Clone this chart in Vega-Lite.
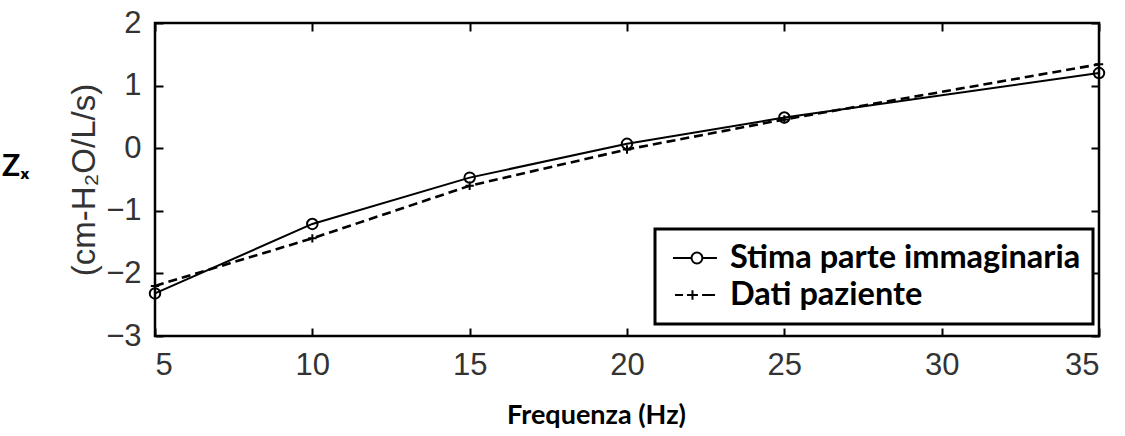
{
  "$schema": "https://vega.github.io/schema/vega-lite/v6.json",
  "autosize": "none",
  "width": 944,
  "height": 313,
  "padding": {"left": 155, "top": 23, "right": 26, "bottom": 100},
  "background": "white",
  "title": {"text": "Zₓ", "orient": "left", "angle": 0, "anchor": "middle", "align": "right", "baseline": "middle", "offset": 12, "dy": -13, "font": "Lato", "fontWeight": "bold", "fontSize": 30, "color": "black"},
  "data": {"values": [
    {"f": 5, "z": -2.32, "serie": "Stima parte immaginaria"},
    {"f": 10, "z": -1.21, "serie": "Stima parte immaginaria"},
    {"f": 15, "z": -0.47, "serie": "Stima parte immaginaria"},
    {"f": 20, "z": 0.07, "serie": "Stima parte immaginaria"},
    {"f": 25, "z": 0.49, "serie": "Stima parte immaginaria"},
    {"f": 35, "z": 1.2, "serie": "Stima parte immaginaria"},
    {"f": 5, "z": -2.2, "serie": "Dati paziente"},
    {"f": 10, "z": -1.44, "serie": "Dati paziente"},
    {"f": 15, "z": -0.6, "serie": "Dati paziente"},
    {"f": 20, "z": -0.02, "serie": "Dati paziente"},
    {"f": 25, "z": 0.46, "serie": "Dati paziente"},
    {"f": 35, "z": 1.34, "serie": "Dati paziente"}
  ]},
  "layer": [
    {
      "transform": [{"filter": "datum.serie === 'Stima parte immaginaria'"}],
      "mark": {"type": "line", "color": "black", "strokeWidth": 2, "clip": false},
      "encoding": {
        "x": {"field": "f", "type": "quantitative", "scale": {"domain": [5, 35], "nice": false, "zero": false},
          "axis": {"orient": "bottom", "values": [5, 10, 15, 20, 25, 30, 35], "title": "Frequenza (Hz)", "titleFont": "Lato", "titleFontWeight": "bold", "titleFontSize": 27, "titleColor": "black", "titleX": 441, "titlePadding": 22}},
        "y": {"field": "z", "type": "quantitative", "scale": {"domain": [-3, 2], "nice": false, "zero": false},
          "axis": {"orient": "left", "values": [-3, -2, -1, 0, 1, 2], "title": "(cm-H₂O/L/s)", "titleFont": "Liberation Sans", "titleFontWeight": "normal", "titleFontSize": 33, "titleColor": "#333333", "titlePadding": 4}}
      }
    },
    {
      "transform": [{"filter": "datum.serie === 'Dati paziente'"}],
      "mark": {"type": "line", "color": "black", "strokeWidth": 2.6, "strokeDash": [9, 5], "clip": false},
      "encoding": {
        "x": {"field": "f", "type": "quantitative", "axis": null},
        "y": {"field": "z", "type": "quantitative", "axis": null}
      }
    },
    {
      "transform": [{"filter": "datum.serie === 'Stima parte immaginaria'"}],
      "mark": {"type": "point", "shape": "circle", "filled": false, "color": "black", "strokeWidth": 2, "size": 110, "opacity": 1, "clip": false},
      "encoding": {
        "x": {"field": "f", "type": "quantitative", "axis": null},
        "y": {"field": "z", "type": "quantitative", "axis": null}
      }
    },
    {
      "transform": [{"filter": "datum.serie === 'Dati paziente'"}],
      "mark": {"type": "point", "shape": "M-0.8,0L0.8,0M0,-0.8L0,0.8", "filled": false, "color": "black", "strokeWidth": 2, "size": 110, "opacity": 1, "clip": false},
      "encoding": {
        "x": {"field": "f", "type": "quantitative", "axis": null},
        "y": {"field": "z", "type": "quantitative", "axis": null}
      }
    },
    {
      "mark": {"type": "point", "filled": false, "color": "black", "strokeWidth": 2, "size": 0, "opacity": 1, "clip": false},
      "encoding": {
        "x": {"field": "f", "type": "quantitative", "axis": null},
        "y": {"field": "z", "type": "quantitative", "axis": null},
        "shape": {"field": "serie", "type": "nominal",
          "scale": {"domain": ["Stima parte immaginaria", "Dati paziente"], "range": [
            "M-0.69,0L0.47,0M1.15,0L2.06,0M1.15,0A0.34,0.34 0 1 1 0.47,0A0.34,0.34 0 1 1 1.15,0",
            "M-0.56,0L-0.06,0M0.19,0L0.87,0M0.53,-0.3L0.53,0.3M1.13,0L1.94,0"]},
          "legend": {
            "title": null, "orient": "none", "legendX": 500, "legendY": 206,
            "padding": 12, "rowPadding": 3, "symbolSize": 1024, "labelOffset": 29,
            "labelFont": "Lato", "labelFontWeight": "bold", "labelFontSize": 32.5, "labelColor": "black", "labelLimit": 700,
            "strokeColor": "black", "fillColor": "white", "symbolStrokeWidth": 2, "symbolStrokeColor": "black", "symbolFillColor": "transparent", "symbolOpacity": 1
          }
        }
      }
    },
    {
      "mark": {"type": "point", "opacity": 0},
      "encoding": {
        "x": {"field": "f", "type": "quantitative", "axis": {"orient": "top", "values": [5, 10, 15, 20, 25, 30, 35], "labels": false, "title": null}},
        "y": {"field": "z", "type": "quantitative", "axis": {"orient": "right", "values": [-3, -2, -1, 0, 1, 2], "labels": false, "title": null}}
      }
    }
  ],
  "resolve": {"axis": {"x": "independent", "y": "independent"}},
  "config": {
    "view": {"stroke": "black", "strokeWidth": 2.5},
    "legend": {"strokeWidth": 3},
    "axis": {"domain": false, "grid": false, "ticks": true, "tickSize": -8, "tickWidth": 2, "tickColor": "black", "labelFont": "Liberation Sans", "labelFontSize": 31, "labelColor": "#333333", "labelPadding": 22}
  }
}
